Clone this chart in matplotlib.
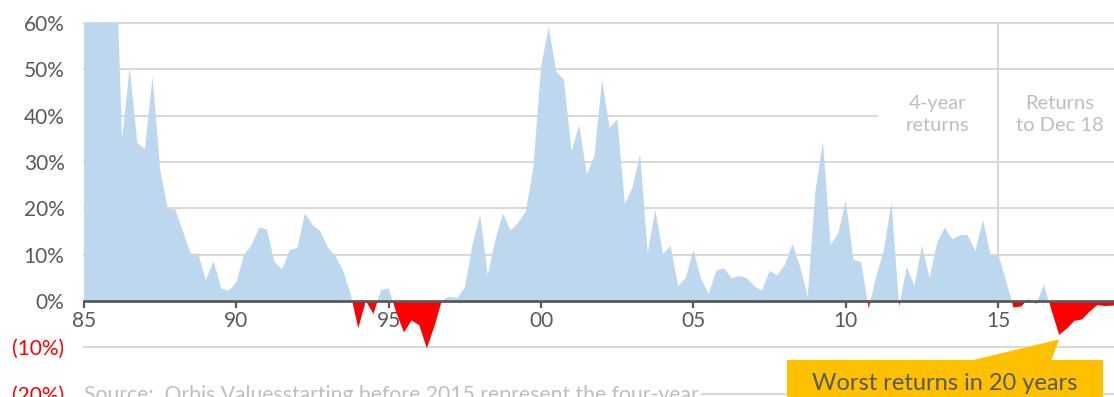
import numpy as np
import matplotlib.pyplot as plt
from matplotlib.patches import Polygon, Rectangle

plt.rcParams['font.family'] = ['Lato', 'DejaVu Sans']

# quarterly 4-year returns (%) from 1985, last part = returns to Dec 18
start_year = 1985
returns = [
    75, 80, 85, 80, 85, 35, 50.3, 34.1, 32.8, 48.4,
    28.3, 19.9, 19.7, 15.0, 10.2, 10.2, 4.5, 8.6, 2.7, 2.2,
    4.0, 9.9, 12.1, 15.8, 15.5, 8.5, 6.8, 11.0, 11.4, 18.9,
    16.4, 15.1, 11.6, 9.7, 6.5, 1.5, -5.9, 0.0, -2.8, 2.4,
    2.7, -2.5, -6.8, -4.2, -5.2, -10.2, -5.5, 0.2, 0.9, 0.6,
    3.0, 12.1, 18.6, 5.6, 13.2, 18.9, 15.2, 16.9, 19.3, 29.0,
    50.6, 59.1, 49.5, 47.7, 32.3, 38.0, 27.4, 31.2, 47.7, 37.3,
    39.3, 20.9, 24.5, 31.7, 10.3, 19.7, 10.1, 11.9, 3.2, 5.0,
    11.0, 4.8, 1.5, 6.5, 7.1, 4.9, 5.4, 4.9, 3.2, 2.2,
    6.5, 5.5, 7.8, 12.3, 7.4, 0.9, 23.6, 34.4, 12.1, 14.6,
    21.7, 8.9, 8.4, -1.6, 5.3, 11.0, 21.4, -1.2, 7.4, 3.2,
    11.9, 5.0, 12.6, 15.8, 13.3, 14.2, 14.2, 10.8, 17.5, 9.9,
    10.1, 4.5, -1.4, -1.2, 0.5, -0.6, 3.5, -2.0, -7.3, -6.0,
    -4.3, -4.0, -2.3, -0.9, -1.1, -1.0, -1.0,
]
y_ticks = [60, 50, 40, 30, 20, 10, 0, -10, -20]
y_labels = ['60%', '50%', '40%', '30%', '20%', '10%', '0%', '(10%)', '(20%)']
x_ticks = [1985, 1990, 1995, 2000, 2005, 2010, 2015]
x_labels = ['85', '90', '95', '00', '05', '10', '15']

returns = np.array(returns)
years = start_year + np.arange(len(returns)) / 4

blue = '#BDD7EE'
red = '#FF0000'
grey = '#595959'
light = '#D9D9D9'
label_grey = '#BFBFBF'
yellow = '#FFC000'

W, H = 1114, 397
fig = plt.figure(figsize=(W / 100, H / 100), dpi=100)
ax = fig.add_axes([84 / W, 3.4 / H, 1 - 84 / W, 370.6 / H])
ax.set_xlim(1985, 2018.8)
ax.set_ylim(-20, 60)

# gridlines (40% one stops at the labels)
for v in [60, 50, 30, 20, 10, -10, -20]:
    ax.axhline(v, color=light, lw=1.5, zorder=0, clip_on=False)
ax.plot([1985, 2011.03], [40, 40], color=light, lw=1.5, zorder=0)
ax.plot([2015, 2015], [0, 59.6], color=light, lw=1.5, zorder=1)

ax.fill_between(years, 0, returns, where=returns >= 0, interpolate=True,
                color=blue, lw=0, zorder=2)
ax.fill_between(years, 0, returns, where=returns <= 0, interpolate=True,
                color=red, lw=0, zorder=2)

for s in ['top', 'right', 'left']:
    ax.spines[s].set_visible(False)
ax.spines['bottom'].set_position(('data', 0))
ax.spines['bottom'].set_color(grey)
ax.spines['bottom'].set_linewidth(2)
ax.spines['bottom'].set_zorder(3)

ax.set_xticks(x_ticks)
ax.set_xticklabels(x_labels)
ax.tick_params(axis='x', direction='out', length=5, width=1.6, color=grey,
               labelcolor=grey, labelsize=15, pad=2)
ax.set_yticks(y_ticks)
ax.set_yticklabels(y_labels)
ax.tick_params(axis='y', length=0, labelsize=15, pad=14)
for lab, v in zip(ax.get_yticklabels(), y_ticks):
    lab.set_color(red if v < 0 else grey)

ax.text(2013.0, 40.3, '4-year\nreturns', ha='center', va='center',
        color=label_grey, fontsize=14.5, linespacing=1.35)
ax.text(2017.03, 40.3, 'Returns\nto Dec 18', ha='center', va='center',
        color=label_grey, fontsize=14.5, linespacing=1.35,
        bbox=dict(fc='white', ec='none', pad=1))

fig.text(84 / W, -4 / H,
         'Source:  Orbis Valuesstarting before 2015 represent the four-year',
         color=label_grey, fontsize=15.2, va='baseline',
         bbox=dict(fc='white', ec='none', pad=2))

# callout for worst recent return
recent = years >= 2015
imin = np.where(recent)[0][np.argmin(returns[recent])]
tx, ty = years[imin], returns[imin] - 1.0
pointer = Polygon([[tx - 2.92, -12.9], [tx, ty], [tx - 0.26, -12.9]],
                  closed=True, fc=yellow, ec='none', clip_on=False, zorder=5)
ax.add_patch(pointer)
fig.add_artist(Rectangle((787 / W, -0.05), 316 / W, 37 / H + 0.05,
                         transform=fig.transFigure, fc=yellow, ec='none',
                         zorder=5))
fig.text(945 / W, 7 / H, 'Worst returns in 20 years', ha='center',
         va='baseline', fontsize=17, color=grey, zorder=6)

fig.savefig('out.png', dpi=100)
